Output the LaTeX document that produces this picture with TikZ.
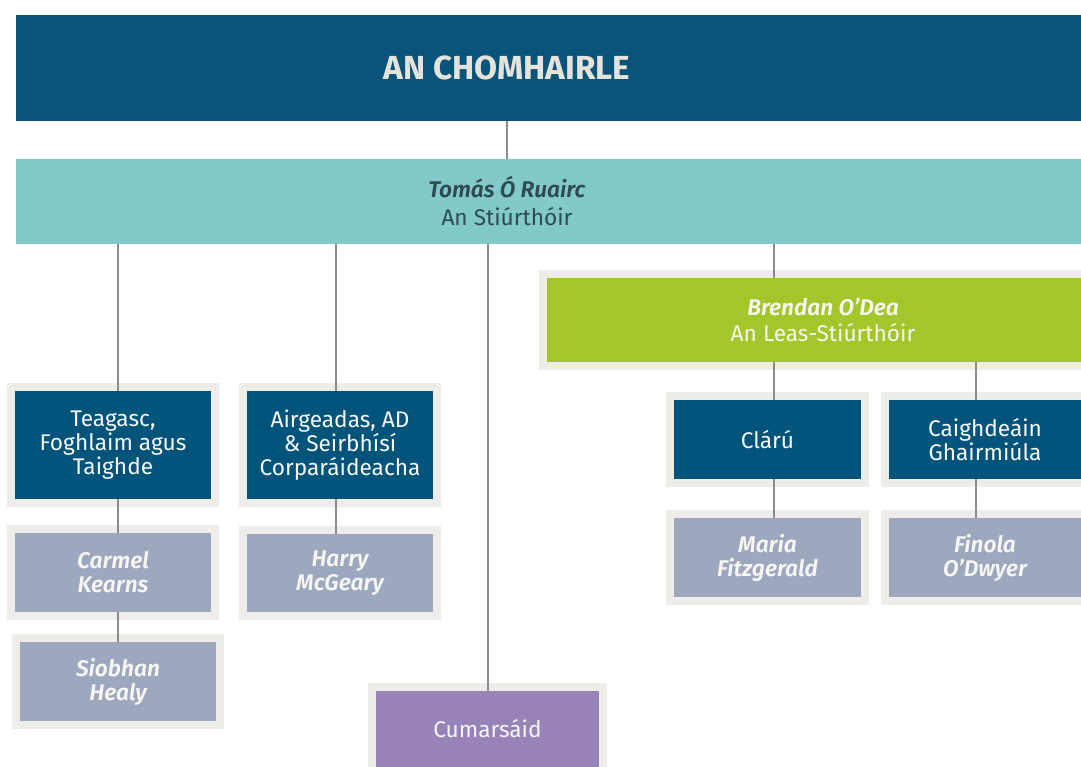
\documentclass[tikz,border=0pt]{standalone}
\usepackage{fontspec}
\setmainfont{Fira Sans}[BoldFont={* SemiBold},BoldItalicFont={* SemiBold Italic}]
\newfontfamily\headfont{Fira Sans}
\usetikzlibrary{positioning}

\definecolor{navy}{HTML}{0B5479}
\definecolor{deep}{HTML}{02547A}
\definecolor{seafoam}{HTML}{82C9C9}
\definecolor{leaf}{HTML}{A3C62B}
\definecolor{slate}{HTML}{9DA8BF}
\definecolor{heather}{HTML}{9883B8}
\definecolor{frame}{HTML}{EFEDE9}
\definecolor{wire}{HTML}{8C8C8C}
\definecolor{ink}{HTML}{2E4B52}
\definecolor{chalk}{HTML}{E4E4DC}
\definecolor{snow}{HTML}{F6F6F2}

\begin{document}
\begin{tikzpicture}
[x=0.75pt,y=-0.75pt,
 box/.style={rectangle,inner sep=0pt,outer sep=0pt,align=center,
   font=\fontsize{17}{18}\selectfont},
 framed/.style={box,preaction={draw=frame,line width=12pt}},
 unit/.style={framed,fill=deep,text=snow,minimum height=59.25pt},
 person/.style={framed,fill=slate,text=snow,minimum height=59.25pt,
   font=\fontsize{17}{18}\selectfont\bfseries\itshape},
 link/.style={draw=wire,line width=1.1pt}]

      \clip (0,0) rectangle (1081,767);

      \node[box,fill=navy,minimum width=813pt,minimum height=79.5pt,
        label={[xshift=-38.25pt,text=chalk,
          font=\headfont\fontsize{25}{27}\selectfont\bfseries]center:AN CHOMHAIRLE}]
        (council) at (558,68) {};
      \node[box,fill=seafoam,minimum width=813pt,minimum height=63.75pt,
        label={[xshift=-38.25pt,yshift=0.75pt,text=ink,align=center,
          font=\fontsize{17}{21}\selectfont]center:{\textbf{\textit{Tomás Ó Ruairc}}\\An Stiúrthóir}}]
        (stiur) at (558,201.5) {};
      \node[framed,fill=leaf,text=snow,minimum width=414pt,minimum height=63pt,
        font=\fontsize{17}{19.5}\selectfont]
        (leas) at (823,320) {\textbf{\textit{Brendan O’Dea}}\\An Leas-Stiúrthóir};

      \node[unit,minimum width=147pt,minimum height=81pt] (tfh) at (113,445)
        {Teagasc,\\Foghlaim agus\\Taighde};
      \node[unit,minimum width=139.5pt,minimum height=81pt] (airg) [right=27pt of tfh]
        {Airgeadas, AD\\\& Seirbhísí\\Corparáideacha};
      \node[person,minimum width=147pt] (carmel) [below=25.5pt of tfh] {Carmel\\Kearns};
      \node[person,minimum width=139.5pt,minimum height=58.5pt] (harry) [below=26.25pt of airg]
        {Harry\\McGeary};
      \node[person,minimum width=147pt] (siobhan) [below=22.5pt of carmel,xshift=3.75pt]
        {Siobhan\\Healy};
      \node[framed,fill=heather,text=snow,minimum width=167.25pt,minimum height=57pt]
        (cumar) at (487.5,729) {Cumarsáid};

      \node[unit,minimum width=140.25pt] (claru) at (767.5,439.5) {Clárú};
      \node[unit,minimum width=144pt] (caigh) [right=21pt of claru] {Caighdeáin\\Ghairmiúla};
      \node[person,minimum width=140.25pt] (maria) [below=29.25pt of claru] {Maria\\Fitzgerald};
      \node[person,minimum width=144pt] (finola) [below=29.25pt of caigh] {Finola\\O’Dwyer};

      \coordinate (xa) at (118,0);
      \coordinate (xb) at (336,0);
      \coordinate (xc) at (488,0);
      \coordinate (xd) at (507,0);
      \coordinate (xe) at (774,0);
      \coordinate (xf) at (976,0);

      \path[link]
      (council.south -| xd) edge (stiur.north -| xd)
      (stiur.south -| xa) edge (tfh.north -| xa)
      (stiur.south -| xb) edge (airg.north -| xb)
      (stiur.south -| xc) edge (cumar.north -| xc)
      (stiur.south -| xe) edge (leas.north -| xe)
      (tfh.south -| xa) edge (carmel.north -| xa)
      (carmel.south -| xa) edge (siobhan.north -| xa)
      (airg.south -| xb) edge (harry.north -| xb)
      (leas.south -| xe) edge (claru.north -| xe)
      (leas.south -| xf) edge (caigh.north -| xf)
      (claru.south -| xe) edge (maria.north -| xe)
      (caigh.south -| xf) edge (finola.north -| xf)
      ;

\end{tikzpicture}
\end{document}
